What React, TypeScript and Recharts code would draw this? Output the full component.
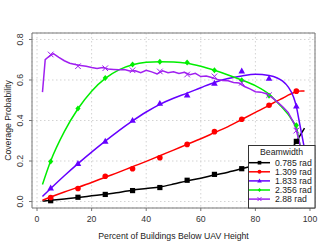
import {
  ComposedChart,
  Line,
  Scatter,
  XAxis,
  YAxis,
  CartesianGrid,
  ReferenceArea,
  Legend,
} from 'recharts';

const SERIES_NAMES = ['0.785 rad', '1.309 rad', '1.833 rad', '2.356 rad', '2.88 rad'];
const COLORS = ['#000000', '#ff0000', '#6600ff', '#00ee00', '#a020f0'];
const MARKERS = ['square', 'circle', 'triangle', 'diamond', 'cross'];

// analytic curves
const CURVE_X = [2, 5, 10, 15, 20, 25, 30, 35, 40, 45, 50, 55, 60, 65, 70, 75, 80, 85, 88, 90, 92, 94, 95, 96, 97, 98];
const CURVE_0785 = [0.002, 0.006, 0.013, 0.02, 0.028, 0.036, 0.045, 0.056, 0.064, 0.072, 0.086, 0.102, 0.115, 0.131, 0.145, 0.162, 0.18, 0.205, 0.222, 0.236, 0.254, 0.275, 0.295, 0.318, 0.34, 0.362];
const CURVE_1309 = [0.006, 0.022, 0.047, 0.07, 0.094, 0.12, 0.145, 0.172, 0.198, 0.226, 0.254, 0.282, 0.31, 0.34, 0.37, 0.405, 0.44, 0.475, 0.497, 0.51, 0.525, 0.537, 0.542, 0.545, 0.546, 0.546];
const CURVE_1833 = [0.025, 0.064, 0.127, 0.187, 0.244, 0.298, 0.35, 0.398, 0.442, 0.48, 0.51, 0.535, 0.562, 0.588, 0.607, 0.62, 0.628, 0.622, 0.61, 0.594, 0.566, 0.515, 0.47, 0.4, 0.33, 0.26];
const CURVE_2356 = [0.084, 0.2, 0.345, 0.458, 0.545, 0.608, 0.65, 0.675, 0.687, 0.69, 0.689, 0.683, 0.668, 0.648, 0.625, 0.6, 0.572, 0.53, 0.49, 0.462, 0.43, 0.39, 0.37, 0.3, 0.24, 0.18];

// 2.88 rad is a noisy curve
const CURVE_288_X = [2, 3, 4, 5, 6, 8, 10, 12, 14, 16, 18, 20, 22, 24, 26, 28, 30, 32, 34, 36, 38, 40, 42, 44, 46, 48, 50, 52, 54, 56, 58, 60, 62, 64, 66, 68, 70, 72, 74, 76, 78, 80, 82, 84, 86, 88, 90, 92, 94, 95, 96, 98];
const CURVE_288 = [0.54, 0.7, 0.712, 0.722, 0.73, 0.712, 0.695, 0.683, 0.676, 0.672, 0.668, 0.662, 0.657, 0.662, 0.654, 0.652, 0.65, 0.652, 0.645, 0.646, 0.636, 0.648, 0.64, 0.63, 0.645, 0.636, 0.641, 0.632, 0.638, 0.626, 0.633, 0.617, 0.62, 0.612, 0.603, 0.598, 0.596, 0.588, 0.585, 0.568, 0.556, 0.542, 0.54, 0.532, 0.515, 0.492, 0.468, 0.44, 0.39, 0.352, 0.3, 0.18];

// simulated points
const MARK_X = [5, 15, 25, 35, 45, 55, 65, 75, 85, 95];
const MARK_0785 = [0.004, 0.021, 0.035, 0.054, 0.069, 0.105, 0.134, 0.162, 0.21, 0.297];
const MARK_1309 = [0.02, 0.064, 0.125, 0.162, 0.216, 0.282, 0.345, 0.406, 0.475, 0.545];
const MARK_1833 = [0.066, 0.187, 0.297, 0.4, 0.484, 0.525, 0.583, 0.644, 0.607, 0.47];
const MARK_2356 = [0.198, 0.459, 0.61, 0.677, 0.69, 0.686, 0.648, 0.599, 0.522, 0.376];
const MARK_288 = [0.726, 0.668, 0.658, 0.648, 0.642, 0.627, 0.618, 0.586, 0.525, 0.35];

const X_TICKS = [0, 20, 40, 60, 80, 100];
const Y_TICKS = [0, 0.2, 0.4, 0.6, 0.8];

const FONT = '"Liberation Sans", Arial, sans-serif';

const toPoints = (xs: number[], ys: number[]) => xs.map((x, i) => ({ x, y: ys[i] }));

const curves = [
  toPoints(CURVE_X, CURVE_0785),
  toPoints(CURVE_X, CURVE_1309),
  toPoints(CURVE_X, CURVE_1833),
  toPoints(CURVE_X, CURVE_2356),
  toPoints(CURVE_288_X, CURVE_288),
];
const marks = [MARK_0785, MARK_1309, MARK_1833, MARK_2356, MARK_288].map((ys) => toPoints(MARK_X, ys));

function Marker({ kind, cx, cy, color, s = 1 }: any) {
  if (cx == null || cy == null) return null;
  switch (kind) {
    case 'square':
      return <rect x={cx - 2.6 * s} y={cy - 2.6 * s} width={5.2 * s} height={5.2 * s} fill={color} />;
    case 'circle':
      return <circle cx={cx} cy={cy} r={2.8 * s} fill={color} />;
    case 'triangle':
      return (
        <polygon
          points={`${cx},${cy - 3.6 * s} ${cx + 3.3 * s},${cy + 2.3 * s} ${cx - 3.3 * s},${cy + 2.3 * s}`}
          fill={color}
        />
      );
    case 'diamond':
      return (
        <polygon
          points={`${cx},${cy - 3 * s} ${cx + 2.6 * s},${cy} ${cx},${cy + 3 * s} ${cx - 2.6 * s},${cy}`}
          fill={color}
        />
      );
    default:
      return (
        <g stroke={color} strokeWidth={1}>
          <line x1={cx - 2.8 * s} y1={cy - 2.8 * s} x2={cx + 2.8 * s} y2={cy + 2.8 * s} />
          <line x1={cx - 2.8 * s} y1={cy + 2.8 * s} x2={cx + 2.8 * s} y2={cy - 2.8 * s} />
        </g>
      );
  }
}

const XTick = ({ x, payload }: any) => (
  <text x={x} y={219} textAnchor="middle" dominantBaseline="central" fontSize={8.7} fill="#333" fontFamily={FONT}>
    {payload.value}
  </text>
);

const YTick = ({ y, payload }: any) => (
  <text
    x={20}
    y={y}
    transform={`rotate(-90 20 ${y})`}
    textAnchor="middle"
    dominantBaseline="central"
    fontSize={8.7}
    fill="#333"
    fontFamily={FONT}
  >
    {payload.value.toFixed(1)}
  </text>
);

function BeamLegend() {
  return (
    <svg width={68} height={64} style={{ display: 'block' }}>
      <rect x={0.5} y={0.5} width={66.5} height={62.5} fill="#fff" stroke="#333" />
      <text x={33.5} y={7} textAnchor="middle" dominantBaseline="central" fontSize={8.7} fill="#222" fontFamily={FONT}>
        Beamwidth
      </text>
      {SERIES_NAMES.map((name, i) => {
        const y = 17.7 + i * 9.1;
        return (
          <g key={name}>
            <line x1={1} x2={22} y1={y} y2={y} stroke={COLORS[i]} strokeWidth={1.5} />
            <Marker kind={MARKERS[i]} cx={11.5} cy={y} color={COLORS[i]} s={0.7} />
            <text x={27} y={y} dominantBaseline="central" fontSize={8.7} fill="#222" fontFamily={FONT}>
              {name}
            </text>
          </g>
        );
      })}
    </svg>
  );
}

export default function App() {
  return (
    <div style={{ position: 'absolute', left: 0, top: 0, background: '#fff' }}>
      <ComposedChart width={332} height={249} margin={{ top: 33, right: 17, bottom: 0, left: 0 }}>
        <CartesianGrid stroke="#d3d3d3" strokeDasharray="1.5 2.5" />
        <XAxis
          type="number"
          dataKey="x"
          domain={[-1.84, 101.84]}
          ticks={X_TICKS}
          allowDataOverflow
          axisLine={false}
          tickLine={{ stroke: '#777' }}
          tickSize={3}
          tick={<XTick />}
          height={41}
          label={{
            content: () => (
              <text x={173.5} y={236} textAnchor="middle" dominantBaseline="central" fontSize={8.7} fill="#222" fontFamily={FONT}>
                Percent of Buildings Below UAV Height
              </text>
            ),
          }}
        />
        <YAxis
          type="number"
          dataKey="y"
          domain={[-0.032, 0.832]}
          ticks={Y_TICKS}
          allowDataOverflow
          axisLine={false}
          tickLine={{ stroke: '#777' }}
          tickSize={3}
          tick={<YTick />}
          width={32}
          label={{
            content: () => (
              <text
                x={7.5}
                y={120.5}
                transform="rotate(-90 7.5 120.5)"
                textAnchor="middle"
                dominantBaseline="central"
                fontSize={8.7}
                fill="#222"
                fontFamily={FONT}
              >
                Coverage Probability
              </text>
            ),
          }}
        />
        <ReferenceArea
          x1={-1.84}
          x2={101.84}
          y1={-0.032}
          y2={0.832}
          fill="none"
          stroke="#777"
          strokeWidth={1}
          ifOverflow="visible"
        />
        {curves.map((pts, i) => (
          <Line
            key={`line-${i}`}
            data={pts}
            dataKey="y"
            type={i === 4 ? 'linear' : 'monotone'}
            stroke={COLORS[i]}
            strokeWidth={1.5}
            dot={false}
            isAnimationActive={false}
            name={SERIES_NAMES[i]}
          />
        ))}
        {marks.map((pts, i) => (
          <Scatter
            key={`mark-${i}`}
            data={pts}
            dataKey="y"
            fill={COLORS[i]}
            isAnimationActive={false}
            shape={(p: any) => <Marker kind={MARKERS[i]} cx={p.cx} cy={p.cy} color={COLORS[i]} />}
          />
        ))}
        <Legend
          layout="vertical"
          align="center"
          verticalAlign="middle"
          wrapperStyle={{ left: 248, top: 145, width: 68, height: 64 }}
          content={() => <BeamLegend />}
        />
      </ComposedChart>
    </div>
  );
}
